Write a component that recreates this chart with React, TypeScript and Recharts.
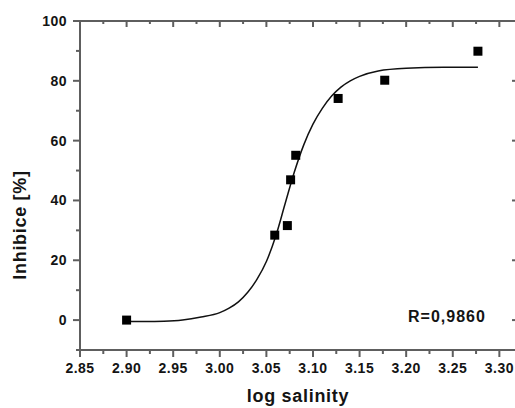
import { ComposedChart, Line, Scatter, XAxis, YAxis } from 'recharts'

// measured points
const salinity = [2.9, 3.059, 3.0725, 3.076, 3.0815, 3.127, 3.177, 3.277]
const inhibition = [0, 28.4, 31.6, 46.9, 55.1, 74.1, 80.2, 89.9]

// fitted sigmoid
const fitX = [
  2.9, 2.92, 2.94, 2.96, 2.98, 3.0, 3.01, 3.02, 3.03, 3.04, 3.05, 3.06, 3.07, 3.08, 3.09, 3.1,
  3.11, 3.12, 3.13, 3.14, 3.15, 3.17, 3.2, 3.24, 3.277,
]
const fitY = [
  -0.4, -0.5, -0.4, 0, 1.0, 2.5, 4.0, 6.1, 9.3, 13.7, 19.6, 28, 38.8, 49.5, 58.5, 65.5, 70.8,
  74.9, 77.9, 80, 81.5, 83.3, 84.2, 84.5, 84.5,
]

const xTicks = [
  2.85, 2.875, 2.9, 2.925, 2.95, 2.975, 3.0, 3.025, 3.05, 3.075, 3.1, 3.125, 3.15, 3.175, 3.2,
  3.225, 3.25, 3.275, 3.3,
]
const xLabels = ['2.85', '2.90', '2.95', '3.00', '3.05', '3.10', '3.15', '3.20', '3.25', '3.30']
const yTicks = [-10, 0, 10, 20, 30, 40, 50, 60, 70, 80, 90, 100]

const points = salinity.map((x, i) => ({ x, y: inhibition[i] }))
const fit = fitX.map((x, i) => ({ x, y: fitY[i] }))

const FONT = '"Liberation Sans", Arial, Helvetica, sans-serif'
const AXIS = '#5e5e5e'
const TEXT = '#141414'
const TICK = 7
const GAP = 6

const isMajorX = (v: number) => Math.round(v * 1000) % 50 === 0
const isMajorY = (v: number) => v % 20 === 0
const labelX = (v: number) => xLabels[Math.round((v - 2.85) / 0.05)]

function BottomTick(props: any) {
  const { x, y, payload } = props
  const v = payload.value
  const major = isMajorX(v)
  const axisY = y - TICK - GAP
  return (
    <g>
      <line x1={x} x2={x} y1={axisY} y2={axisY + (major ? TICK : 4)} stroke={AXIS} strokeWidth={2} />
      {major && (
        <text
          x={x}
          y={y}
          dy="0.71em"
          textAnchor="middle"
          fontFamily={FONT}
          fontWeight="bold"
          fontSize={14}
          letterSpacing={0.5}
          fill={TEXT}
        >
          {labelX(v)}
        </text>
      )}
    </g>
  )
}

// top and right frame axes: tickSize/tickMargin 0, so x/y sit on the axis line
function TopTick(props: any) {
  const { x, y, payload } = props
  const major = isMajorX(payload.value)
  return <line x1={x} x2={x} y1={y} y2={y + (major ? 6 : 3)} stroke={AXIS} strokeWidth={2} />
}

function RightTick(props: any) {
  const { x, y, payload } = props
  const major = isMajorY(payload.value)
  return <line x1={x - (major ? 6 : 3)} x2={x} y1={y} y2={y} stroke={AXIS} strokeWidth={2} />
}

function LeftTick(props: any) {
  const { x, y, payload } = props
  const v = payload.value
  const major = isMajorY(v)
  const axisX = x + TICK + GAP
  return (
    <g>
      <line x1={axisX - (major ? TICK : 4)} x2={axisX} y1={y} y2={y} stroke={AXIS} strokeWidth={2} />
      {major && (
        <text
          x={x}
          y={y}
          dy="0.355em"
          textAnchor="end"
          fontFamily={FONT}
          fontWeight="bold"
          fontSize={14}
          letterSpacing={0.5}
          fill={TEXT}
        >
          {v}
        </text>
      )}
    </g>
  )
}

function SquareDot(props: any) {
  const { cx, cy } = props
  return <rect x={cx - 4.5} y={cy - 4.5} width={9} height={9} fill="#000" />
}

export default function App() {
  return (
    <div
      style={{
        position: 'fixed',
        top: 0,
        left: 0,
        width: 515,
        height: 408,
        overflow: 'hidden',
        background: '#fff',
      }}
    >
      <ComposedChart width={526} height={408} margin={{ top: 13, right: 0, bottom: 28, left: 0 }}>
        <XAxis
          xAxisId="b"
          dataKey="x"
          type="number"
          domain={[2.85, 3.32]}
          ticks={xTicks}
          interval={0}
          height={30}
          tickSize={TICK}
          tickMargin={GAP}
          tickLine={false}
          tick={<BottomTick />}
          axisLine={{ stroke: AXIS, strokeWidth: 2 }}
          allowDataOverflow
        />
        <XAxis
          xAxisId="t"
          orientation="top"
          dataKey="x"
          type="number"
          domain={[2.85, 3.32]}
          ticks={xTicks}
          interval={0}
          height={8}
          tickSize={0}
          tickMargin={0}
          tickLine={false}
          tick={<TopTick />}
          axisLine={{ stroke: AXIS, strokeWidth: 2 }}
          allowDataOverflow
        />
        <YAxis
          yAxisId="l"
          dataKey="y"
          type="number"
          domain={[-10, 100]}
          ticks={yTicks}
          interval={0}
          width={80}
          tickSize={TICK}
          tickMargin={GAP}
          tickLine={false}
          tick={<LeftTick />}
          axisLine={{ stroke: AXIS, strokeWidth: 2 }}
          allowDataOverflow
        />
        <YAxis
          yAxisId="r"
          orientation="right"
          dataKey="y"
          type="number"
          domain={[-10, 100]}
          ticks={yTicks}
          interval={0}
          width={8}
          tickSize={0}
          tickMargin={0}
          tickLine={false}
          tick={<RightTick />}
          axisLine={{ stroke: AXIS, strokeWidth: 2 }}
          allowDataOverflow
        />
        {/* invisible copy so the top/right frame axes have a series */}
        <Line
          xAxisId="t"
          yAxisId="r"
          data={fit}
          dataKey="y"
          stroke="none"
          dot={false}
          activeDot={false}
          legendType="none"
          isAnimationActive={false}
        />
        <Line
          xAxisId="b"
          yAxisId="l"
          data={fit}
          dataKey="y"
          type="monotone"
          stroke="#111"
          strokeWidth={1.5}
          dot={false}
          activeDot={false}
          isAnimationActive={false}
        />
        <Scatter
          xAxisId="b"
          yAxisId="l"
          data={points}
          dataKey="y"
          shape={<SquareDot />}
          isAnimationActive={false}
        />
      </ComposedChart>
      <svg
        width={515}
        height={408}
        style={{ position: 'absolute', top: 0, left: 0, pointerEvents: 'none' }}
      >
        <text
          x={298}
          y={402}
          textAnchor="middle"
          fontFamily={FONT}
          fontWeight="bold"
          fontSize={18}
          letterSpacing={0.7}
          fill={TEXT}
        >
          log salinity
        </text>
        <text
          transform="translate(26 225) rotate(-90)"
          textAnchor="middle"
          fontFamily={FONT}
          fontWeight="bold"
          fontSize={18}
          letterSpacing={0.7}
          fill={TEXT}
        >
          Inhibice [%]
        </text>
        <text
          x={408}
          y={321.5}
          fontFamily={FONT}
          fontWeight="bold"
          fontSize={16}
          letterSpacing={1}
          fill={TEXT}
        >
          R=0,9860
        </text>
      </svg>
    </div>
  )
}
